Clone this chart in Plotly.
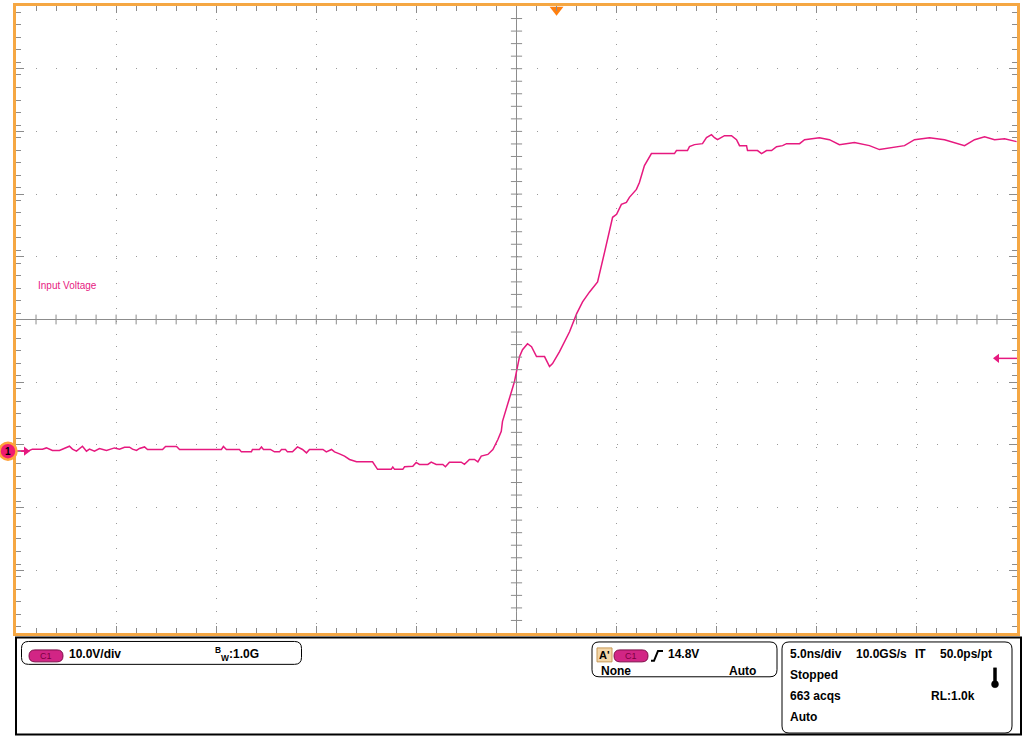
import numpy as np
import plotly.graph_objects as go

# ---------------- data (time in ns, voltage in V) ----------------
T_NS = [-24.93, -24.33, -24.18, -23.68, -23.48, -23.18, -22.83, -22.33, -22.18, -21.98,
        -21.68, -21.48, -21.33, -21.08, -20.83, -20.48, -20.08, -19.83, -19.58, -19.33,
        -19.18, -18.98, -18.83, -18.58, -18.43, -17.68, -17.53, -16.98, -16.83, -14.74,
        -14.64, -14.49, -13.84, -13.74, -13.24, -13.19, -12.84, -12.74, -12.64, -12.29,
        -12.09, -11.84, -11.74, -11.54, -11.44, -11.19, -10.94, -10.69, -10.49, -10.34,
        -9.67, -9.50, -9.24, -9.09, -8.84, -8.59, -8.34, -7.99, -7.19, -6.94,
        -6.26, -6.18, -6.09, -5.68, -5.59, -5.18, -5.01, -4.85, -4.43, -4.26,
        -4.01, -3.68, -3.55, -3.35, -2.76, -2.60, -2.35, -2.10, -1.93, -1.76,
        -1.43, -1.18, -0.93, -0.76, -0.70, -0.40, -0.10, 0.15, 0.30, 0.55,
        0.75, 1.00, 1.40, 1.65, 1.80, 2.15, 2.65, 3.00, 3.30, 3.65,
        4.05, 4.40, 4.75, 4.80, 5.00, 5.24, 5.49, 5.64, 5.99, 6.14,
        6.39, 6.74, 7.89, 7.99, 8.54, 8.64, 8.89, 9.29, 9.49, 9.74,
        9.89, 10.04, 10.39, 10.74, 10.99, 11.14, 11.49, 11.54, 12.04, 12.24,
        12.49, 12.74, 12.99, 13.29, 13.49, 14.14, 14.39, 15.13, 15.63, 16.13,
        16.88, 17.63, 18.13, 18.88, 19.38, 19.88, 20.63, 21.38, 21.88, 22.38,
        22.88, 23.38, 23.88, 24.38, 24.98]
V_CH1 = [0.00, 0.11, 0.32, 0.32, 0.52, 0.11, 0.11, 0.79, 0.32, 0.00,
         0.79, 0.00, 0.32, 0.00, 0.43, 0.11, 0.52, 0.32, 0.63, 0.63,
         0.32, 0.11, 0.43, 0.68, 0.27, 0.27, 0.75, 0.75, 0.27, 0.27,
         0.75, 0.27, 0.27, -0.11, -0.11, 0.27, 0.27, 0.68, 0.27, 0.27,
         -0.11, -0.11, 0.27, 0.27, -0.11, -0.11, 0.68, 0.27, -0.27, 0.27,
         0.27, -0.11, 0.27, -0.11, -0.43, -0.79, -1.32, -1.70, -1.70, -2.90,
         -2.90, -2.54, -2.90, -2.90, -2.49, -2.40, -1.79, -2.11, -2.11, -1.75,
         -2.11, -2.11, -2.49, -1.75, -1.75, -2.11, -1.32, -1.32, -1.70, -0.79,
         -0.52, 0.27, 1.86, 3.17, 4.76, 7.94, 11.11, 15.08, 16.19, 17.14,
         16.67, 15.08, 15.08, 13.49, 13.97, 15.87, 19.05, 21.90, 23.81, 25.40,
         26.98, 31.75, 36.51, 37.30, 37.78, 39.37, 39.68, 40.48, 41.75, 42.86,
         45.56, 47.46, 47.46, 47.94, 47.94, 48.57, 48.89, 49.05, 50.00, 50.48,
         50.00, 49.68, 50.32, 50.32, 49.68, 48.73, 48.73, 47.94, 47.94, 47.46,
         47.94, 47.94, 48.57, 48.73, 49.05, 49.05, 49.68, 50.00, 49.68, 48.89,
         49.21, 48.73, 48.10, 48.41, 48.73, 49.68, 50.00, 49.68, 49.21, 48.73,
         49.68, 50.16, 49.68, 49.84, 49.37]

TRACE_LABEL = "Input Voltage"
CH_SCALE_TEXT = "10.0V/div"
BW_TEXT = "1.0G"
TRIG_LEVEL_V = 14.8
TRIG_TEXT = "14.8V"
TRIG_POS_NS = 2.0
TIMEBASE_TEXTS = ["5.0ns/div", "10.0GS/s", "IT", "50.0ps/pt"]
STATUS_TEXTS = ["Stopped", "663 acqs", "RL:1.0k", "Auto"]

# ---------------- scope geometry ----------------
NS_PER_DIV = 5.0
V_PER_DIV = 10.0
X_MIN, X_MAX = -5 * NS_PER_DIV, 5 * NS_PER_DIV
Y_CENTER = 21.0                       # channel offset (ground is 2.1 div below center)
Y_MIN, Y_MAX = Y_CENTER - 5 * V_PER_DIV, Y_CENTER + 5 * V_PER_DIV

W, H = 1024, 736
PL, PR, PT, PB = 16, 1017, 3, 633     # plot area in pixels

ORANGE = "#F5A743"
MAGENTA = "#E6197F"
GRAY = "#8C8C8C"
FONT = "Liberation Sans, Arial, sans-serif"


def px(x):
    return (x - PL) / (PR - PL)


def py(y):
    return (PB - y) / (PB - PT)


def rrect(x0, y0, x1, y1, r):
    rx, ry = r / (PR - PL), r / (PB - PT)
    a0, a1, b0, b1 = px(x0), px(x1), py(y1), py(y0)
    return (f"M{a0+rx},{b0} L{a1-rx},{b0} Q{a1},{b0} {a1},{b0+ry} "
            f"L{a1},{b1-ry} Q{a1},{b1} {a1-rx},{b1} L{a0+rx},{b1} "
            f"Q{a0},{b1} {a0},{b1-ry} L{a0},{b0+ry} Q{a0},{b0} {a0+rx},{b0} Z")


fig = go.Figure()

# main trace
fig.add_trace(go.Scatter(x=T_NS, y=V_CH1, mode="lines",
                         line=dict(color=MAGENTA, width=1.5), hoverinfo="skip"))

# center cross ticks
xt = np.arange(X_MIN + 1, X_MAX, 1.0)
fig.add_trace(go.Scatter(x=xt, y=[Y_CENTER] * len(xt), mode="markers",
                         marker=dict(symbol="line-ns", size=7, line=dict(color=GRAY, width=1)),
                         hoverinfo="skip"))
yt = np.arange(Y_MIN + 2, Y_MAX, 2.0)
fig.add_trace(go.Scatter(x=[0] * len(yt), y=yt, mode="markers",
                         marker=dict(symbol="line-ew", size=8, line=dict(color=GRAY, width=1)),
                         hoverinfo="skip"))

# trigger position marker at top
fig.add_trace(go.Scatter(x=[TRIG_POS_NS], y=[Y_MAX - 0.6], mode="markers", cliponaxis=False,
                         marker=dict(symbol="triangle-down", size=12, color="#FF7F0E"),
                         hoverinfo="skip"))

# ground arrow (pointing right at left edge) and trigger-level arrow (pointing left at right edge)
fig.add_trace(go.Scatter(x=[X_MIN - 0.05, X_MIN + 0.45], y=[0, 0], mode="lines", cliponaxis=False,
                         line=dict(color=MAGENTA, width=1.5), hoverinfo="skip"))
fig.add_trace(go.Scatter(x=[X_MIN + 0.5], y=[0], mode="markers", cliponaxis=False,
                         marker=dict(symbol="triangle-right", size=8, color=MAGENTA),
                         hoverinfo="skip"))
fig.add_trace(go.Scatter(x=[X_MAX - 0.9, X_MAX], y=[TRIG_LEVEL_V, TRIG_LEVEL_V], mode="lines",
                         cliponaxis=False, line=dict(color=MAGENTA, width=1.5), hoverinfo="skip"))
fig.add_trace(go.Scatter(x=[X_MAX - 1.0], y=[TRIG_LEVEL_V], mode="markers", cliponaxis=False,
                         marker=dict(symbol="triangle-left", size=8, color=MAGENTA),
                         hoverinfo="skip"))

shapes = []
# center lines
shapes.append(dict(type="line", xref="x", yref="y", x0=X_MIN, x1=X_MAX, y0=Y_CENTER, y1=Y_CENTER,
                   line=dict(color=GRAY, width=1), layer="below"))
shapes.append(dict(type="line", xref="x", yref="y", x0=0, x1=0, y0=Y_MIN, y1=Y_MAX,
                   line=dict(color=GRAY, width=1), layer="below"))

# channel 1 ground marker
gy = (0 - Y_MIN) / (Y_MAX - Y_MIN)
shapes.append(dict(type="circle", xref="paper", yref="paper", xsizemode="pixel", ysizemode="pixel",
                   xanchor=px(8), yanchor=gy, x0=-8.5, x1=8.5, y0=-8.5, y1=8.5,
                   fillcolor="#F01A70", line=dict(color="#FFA23C", width=2.5)))

# bottom panel
shapes.append(dict(type="rect", xref="paper", yref="paper", x0=px(16), x1=px(1021),
                   y0=py(735), y1=py(637.5), line=dict(color="black", width=2)))
for (a, b, c, d) in [(21.5, 641.5, 301.5, 664.5), (592, 642, 777, 677), (782, 642, 1012, 733.5)]:
    shapes.append(dict(type="path", xref="paper", yref="paper", path=rrect(a, b, c, d, 7),
                       line=dict(color="black", width=1)))
# C1 pills
for (a, b) in [(29, 63), (614, 648)]:
    shapes.append(dict(type="path", xref="paper", yref="paper", path=rrect(a, 650, b, 662, 6),
                       fillcolor="#D22585", line=dict(color="#7E0C48", width=1)))
# A' box
shapes.append(dict(type="rect", xref="paper", yref="paper", x0=px(597), x1=px(612),
                   y0=py(662), y1=py(648), fillcolor="#F3D6A8", line=dict(color="#C79A58", width=1)))
# rising edge symbol
shapes.append(dict(type="path", xref="paper", yref="paper",
                   path=f"M{px(651)},{py(661)} L{px(654)},{py(661)} L{px(658)},{py(651)} L{px(663)},{py(651)}",
                   line=dict(color="black", width=2)))
# thermometer icon
shapes.append(dict(type="rect", xref="paper", yref="paper", x0=px(993.5), x1=px(996.5),
                   y0=py(683), y1=py(668), fillcolor="black", line=dict(color="black", width=0.5)))
shapes.append(dict(type="circle", xref="paper", yref="paper", x0=px(991.5), x1=px(998.5),
                   y0=py(688), y1=py(681), fillcolor="black", line=dict(color="black", width=0.5)))

ann = []
ann.append(dict(x=X_MIN + 1, y=Y_CENTER + 5.4, xref="x", yref="y", text=TRACE_LABEL,
                showarrow=False, xanchor="left", yanchor="middle",
                font=dict(family=FONT, size=10, color=MAGENTA)))
ann.append(dict(x=px(8), y=gy, xref="paper", yref="paper", text="<b>1</b>", showarrow=False,
                xanchor="center", yanchor="middle", font=dict(family=FONT, size=10, color="black")))


def label(x, y, text, size=12, color="black", anchor="left", bold=True):
    ann.append(dict(x=px(x), y=py(y), xref="paper", yref="paper",
                    text=f"<b>{text}</b>" if bold else text, showarrow=False,
                    xanchor=anchor, yanchor="middle",
                    font=dict(family=FONT, size=size, color=color)))


label(46, 656, "C1", size=9, color="#7A003F", anchor="center", bold=False)
label(631, 656, "C1", size=9, color="#7A003F", anchor="center", bold=False)
label(67, 654.5, CH_SCALE_TEXT)
label(213, 654.5, "<sup>B</sup><sub>W</sub>:" + BW_TEXT)
label(604.5, 655, "A'", size=11, anchor="center")
label(666, 654.5, TRIG_TEXT)
label(599, 671, "None")
label(727, 671, "Auto")
label(788, 654.5, TIMEBASE_TEXTS[0])
label(854, 654.5, TIMEBASE_TEXTS[1])
label(913, 654.5, TIMEBASE_TEXTS[2])
label(938, 654.5, TIMEBASE_TEXTS[3])
label(788, 675, STATUS_TEXTS[0])
label(788, 696, STATUS_TEXTS[1])
label(929, 696, STATUS_TEXTS[2])
label(788, 717, STATUS_TEXTS[3])

axis_common = dict(showticklabels=False, ticks="inside", tickcolor=GRAY, tickwidth=1,
                   showline=True, linecolor=ORANGE, linewidth=3, mirror="ticks",
                   showgrid=True, gridcolor="#9A9A9A", gridwidth=1, zeroline=False,
                   fixedrange=True)

fig.update_layout(
    width=W, height=H,
    margin=dict(l=PL, r=W - PR, t=PT, b=H - PB, pad=0),
    paper_bgcolor="white", plot_bgcolor="white",
    showlegend=False,
    shapes=shapes, annotations=ann,
    xaxis=dict(range=[X_MIN, X_MAX], tick0=0, dtick=NS_PER_DIV, ticklen=7, griddash="1px,11.6px",
               minor=dict(dtick=1, ticklen=5, tickcolor=GRAY, ticks="inside", showgrid=False),
               **axis_common),
    yaxis=dict(range=[Y_MIN, Y_MAX], tick0=Y_CENTER, dtick=V_PER_DIV, ticklen=8, griddash="1px,19.02px",
               minor=dict(dtick=2, ticklen=5, tickcolor=GRAY, ticks="inside", showgrid=False),
               **axis_common),
)

fig.write_html("out.html", config={"displayModeBar": False},
               post_script="document.body.style.margin='0px';")
